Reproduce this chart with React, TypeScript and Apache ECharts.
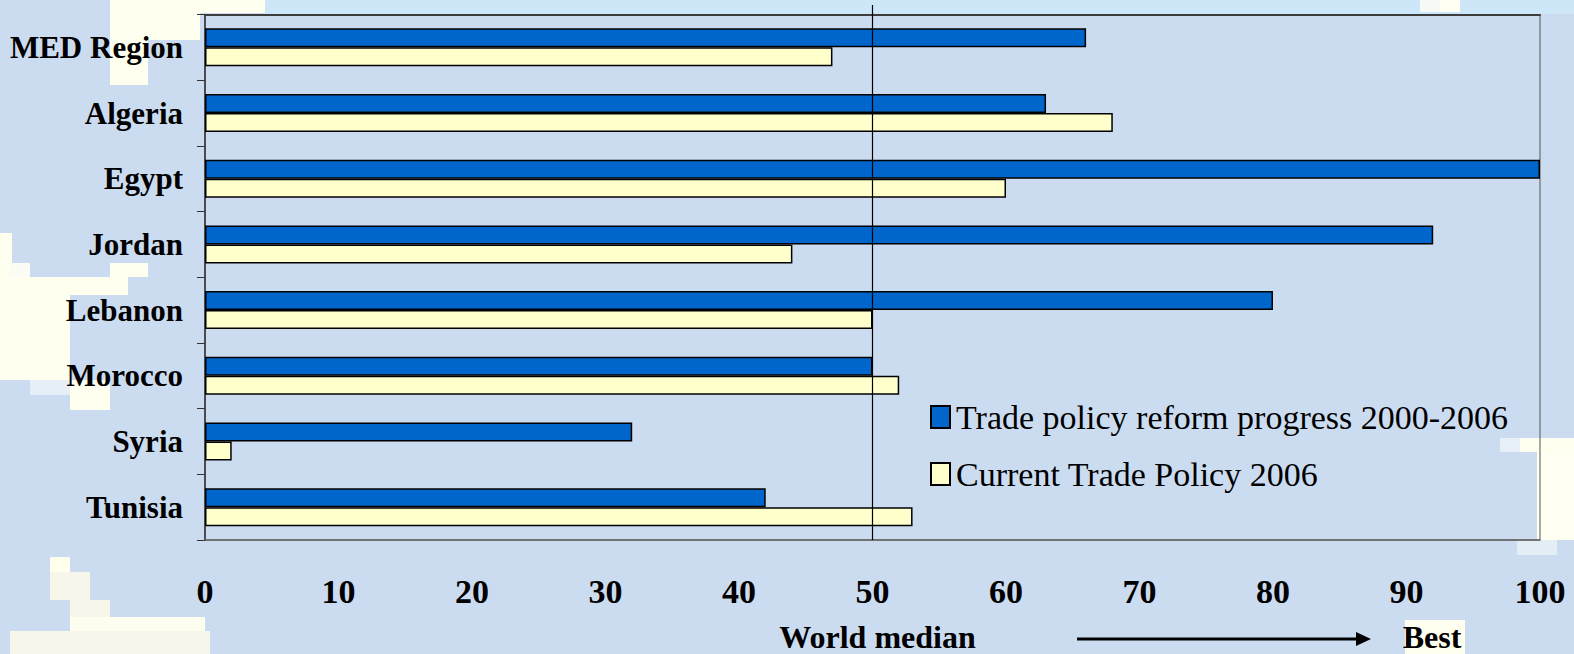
import React, { useEffect, useRef } from "react";
import * as echarts from "echarts";

const categories = ["MED Region", "Algeria", "Egypt", "Jordan", "Lebanon", "Morocco", "Syria", "Tunisia"];
const reformProgress = [66, 63, 100, 92, 80, 50, 32, 42];
const currentPolicy = [47, 68, 60, 44, 50, 52, 2, 53];
const seriesNames = ["Trade policy reform progress 2000-2006", "Current Trade Policy 2006"];
const medianValue = 50;

const SERIF = "'Liberation Serif', 'Times New Roman', serif";

// background texture patches (decoration only)
const patches: [number, number, number, number, string][] = [
  [265, 0, 1309, 14, "#CDE7F9"],
  [110, 0, 155, 13, "#FFFFF0"],
  [110, 0, 90, 40, "#FFFFF0"],
  [110, 0, 38, 85, "#FFFFF0"],
  [0, 233, 12, 147, "#FFFFF0"],
  [10, 263, 20, 14, "#FBFCF4"],
  [110, 263, 38, 14, "#FFFFF0"],
  [0, 277, 128, 18, "#FFFFF0"],
  [0, 295, 70, 85, "#FFFFF0"],
  [30, 380, 40, 15, "#E6EEF8"],
  [70, 380, 40, 30, "#FFFFF0"],
  [50, 557, 20, 15, "#FFFFEE"],
  [50, 572, 40, 28, "#F8F6EA"],
  [70, 600, 40, 17, "#F8F6EA"],
  [70, 617, 135, 14, "#FEFEF0"],
  [10, 631, 200, 23, "#F8F6EA"],
  [1500, 438, 20, 14, "#E8F0F7"],
  [1520, 438, 54, 14, "#FFFFF0"],
  [1537, 452, 37, 88, "#FFFFF2"],
  [1517, 540, 40, 15, "#E6EEF5"],
  [1405, 620, 60, 34, "#FFFFF0"],
  [1420, 0, 20, 12, "#F6FAF4"],
  [1440, 0, 20, 12, "#FFFFF2"],
];

export default function App() {
  const ref = useRef<HTMLDivElement>(null);
  useEffect(() => {
    if (!ref.current) return;
    const chart = echarts.init(ref.current, undefined, { renderer: "svg" });
    const option: any = {
      animation: false,
      backgroundColor: "#CCDCF0",
      grid: {
        left: 205,
        right: 34,
        top: 14.5,
        bottom: 114,
        show: true,
        borderColor: "#555",
        borderWidth: 1,
        backgroundColor: "transparent",
      },
      legend: {
        orient: "vertical",
        left: 925,
        top: 395,
        itemWidth: 19,
        itemHeight: 22,
        itemGap: 23,
        icon: "rect",
        textStyle: { fontFamily: SERIF, fontSize: 34, color: "#000", padding: [0, 0, 0, 1] },
        data: seriesNames,
      },
      xAxis: [
        {
          type: "value",
          min: 0,
          max: 100,
          interval: 10,
          splitLine: { show: false },
          axisTick: { show: false },
          axisLine: { show: true, lineStyle: { color: "#666", width: 1.5 } },
          axisLabel: {
            fontFamily: SERIF,
            fontWeight: "bold",
            fontSize: 34,
            color: "#000",
            margin: 34,
          },
        },
        {
          type: "value",
          position: "top",
          min: 0,
          max: 100,
          interval: 10,
          splitLine: { show: false },
          axisTick: { show: false },
          axisLabel: { show: false },
          axisLine: { show: true, lineStyle: { color: "#3c3c3c", width: 2 } },
        },
      ],
      yAxis: {
        type: "category",
        data: categories,
        inverse: true,
        axisLine: { show: true, lineStyle: { color: "#333", width: 1.5 } },
        axisTick: { show: true, length: 8, lineStyle: { color: "#333", width: 1 } },
        axisLabel: {
          fontFamily: SERIF,
          fontWeight: "bold",
          fontSize: 31,
          color: "#000",
          margin: 22,
        },
      },
      series: [
        {
          name: seriesNames[0],
          type: "bar",
          data: reformProgress,
          barWidth: 19,
          barGap: "0%",
          itemStyle: { color: "#0066CC", borderColor: "#000", borderWidth: 1.5 },
        },
        {
          name: seriesNames[1],
          type: "bar",
          data: currentPolicy,
          barWidth: 19,
          barGap: "0%",
          itemStyle: { color: "#FFFFCC", borderColor: "#000", borderWidth: 1.5 },
        },
      ],
    };
    chart.setOption(option);

    const mx = chart.convertToPixel({ xAxisIndex: 0 }, medianValue) as number;
    const bottomY = 654 - 114;
    chart.setOption({
      graphic: [
        ...patches.map(([x, y, w, h, c]) => ({
          type: "rect",
          z: -100,
          silent: true,
          shape: { x, y, width: w, height: h },
          style: { fill: c },
        })),
        {
          type: "line",
          z: 100,
          shape: { x1: mx, y1: 5, x2: mx, y2: bottomY },
          style: { stroke: "#000", lineWidth: 1.2 },
        },
        {
          type: "text",
          x: mx + 5,
          y: 637,
          style: {
            text: "World median",
            fontFamily: SERIF,
            fontWeight: "bold",
            fontSize: 32,
            fill: "#000",
            align: "center",
            verticalAlign: "middle",
          },
        },
        {
          type: "line",
          shape: { x1: 1077, y1: 639, x2: 1358, y2: 639 },
          style: { stroke: "#000", lineWidth: 3 },
        },
        {
          type: "polygon",
          shape: { points: [[1356, 632], [1371, 639], [1356, 646]] },
          style: { fill: "#000" },
        },
        {
          type: "text",
          x: 1432,
          y: 637,
          style: {
            text: "Best",
            fontFamily: SERIF,
            fontWeight: "bold",
            fontSize: 32,
            fill: "#000",
            align: "center",
            verticalAlign: "middle",
          },
        },
      ],
    });
    return () => chart.dispose();
  }, []);
  return <div ref={ref} style={{ width: 1574, height: 654, position: "absolute", left: 0, top: 0 }} />;
}
